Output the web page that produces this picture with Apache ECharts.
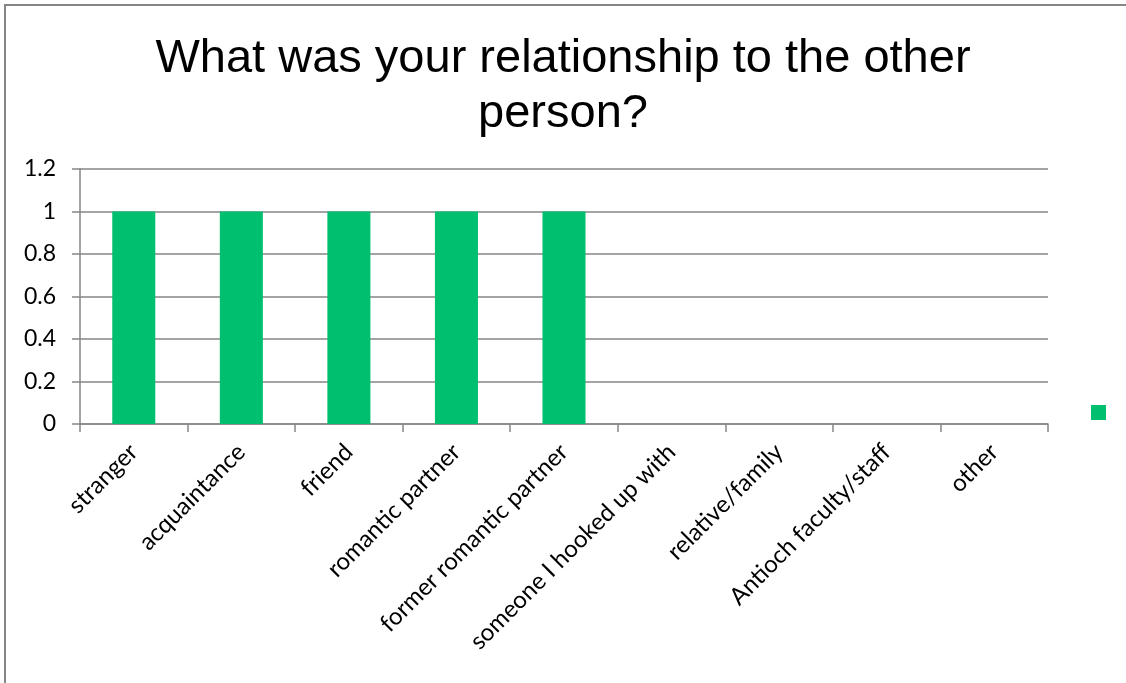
<!DOCTYPE html>
<html>
<head>
<meta charset="utf-8">
<title>relationship</title>
<script src="https://cdn.jsdelivr.net/npm/echarts@6/dist/echarts.min.js"></script>
<style>
html, body { margin: 0; padding: 0; background: #fff; }
#chart { width: 1126px; height: 683px; }
</style>
</head>
<body>
<div id="chart"></div>
<script>
var categories = ['stranger', 'acquaintance', 'friend', 'romantic partner', 'former romantic partner',
	'someone I hooked up with', 'relative/family', 'Antioch faculty/staff', 'other'];
var counts = [1, 1, 1, 1, 1, 0, 0, 0, 0];
var yTicks = [0, 0.2, 0.4, 0.6, 0.8, 1, 1.2];

var gray = '#868686';
var labelFont = 'Lato, "Open Sans", sans-serif';

var myChart = echarts.init(document.getElementById('chart'));
var option = {
	animation : false,
	backgroundColor : '#fff',
	title : {
		text : 'What was your relationship to the other\nperson?',
		left : 'center',
		top : 27,
		textStyle : {
			fontFamily : '"Liberation Sans", Arial, sans-serif',
			fontWeight : 'normal',
			fontSize : 47,
			lineHeight : 55,
			color : '#000'
		}
	},
	legend : {
		left : 1086,
		top : 400,
		itemWidth : 15,
		itemHeight : 15,
		icon : 'rect',
		textStyle : { fontSize : 1 },
		data : [ ' ' ]
	},
	grid : {
		left : 80,
		right : 78,
		top : 169,
		bottom : 259,
		containLabel : false
	},
	xAxis : {
		type : 'category',
		data : categories,
		boundaryGap : true,
		axisLine : { lineStyle : { color : gray, width : 1.5 } },
		axisTick : { show : true, length : 8, lineStyle : { color : gray, width : 1.5 } },
		axisLabel : {
			rotate : 45,
			interval : 0,
			margin : 24,
			color : '#000',
			fontFamily : labelFont,
			fontSize : 24
		}
	},
	yAxis : {
		type : 'value',
		min : yTicks[0],
		max : yTicks[yTicks.length - 1],
		interval : 0.2,
		axisLine : { show : true, lineStyle : { color : gray, width : 1.5 } },
		axisTick : { show : true, length : 8, lineStyle : { color : gray, width : 1.5 } },
		splitLine : { show : true, lineStyle : { color : gray, width : 1.5 } },
		axisLabel : {
			margin : 24,
			color : '#000',
			fontFamily : labelFont,
			fontSize : 23,
			formatter : function(v) { return String(+v.toFixed(1)); }
		}
	},
	series : [ {
		name : ' ',
		type : 'bar',
		barWidth : '40%',
		itemStyle : { color : '#00BF6F' },
		data : counts
	} ],
	graphic : [ {
		type : 'rect',
		shape : { x : 5, y : 5, width : 1200, height : 800 },
		style : { fill : null, stroke : gray, lineWidth : 2 },
		silent : true
	} ]
};
myChart.setOption(option);
</script>
</body>
</html>
